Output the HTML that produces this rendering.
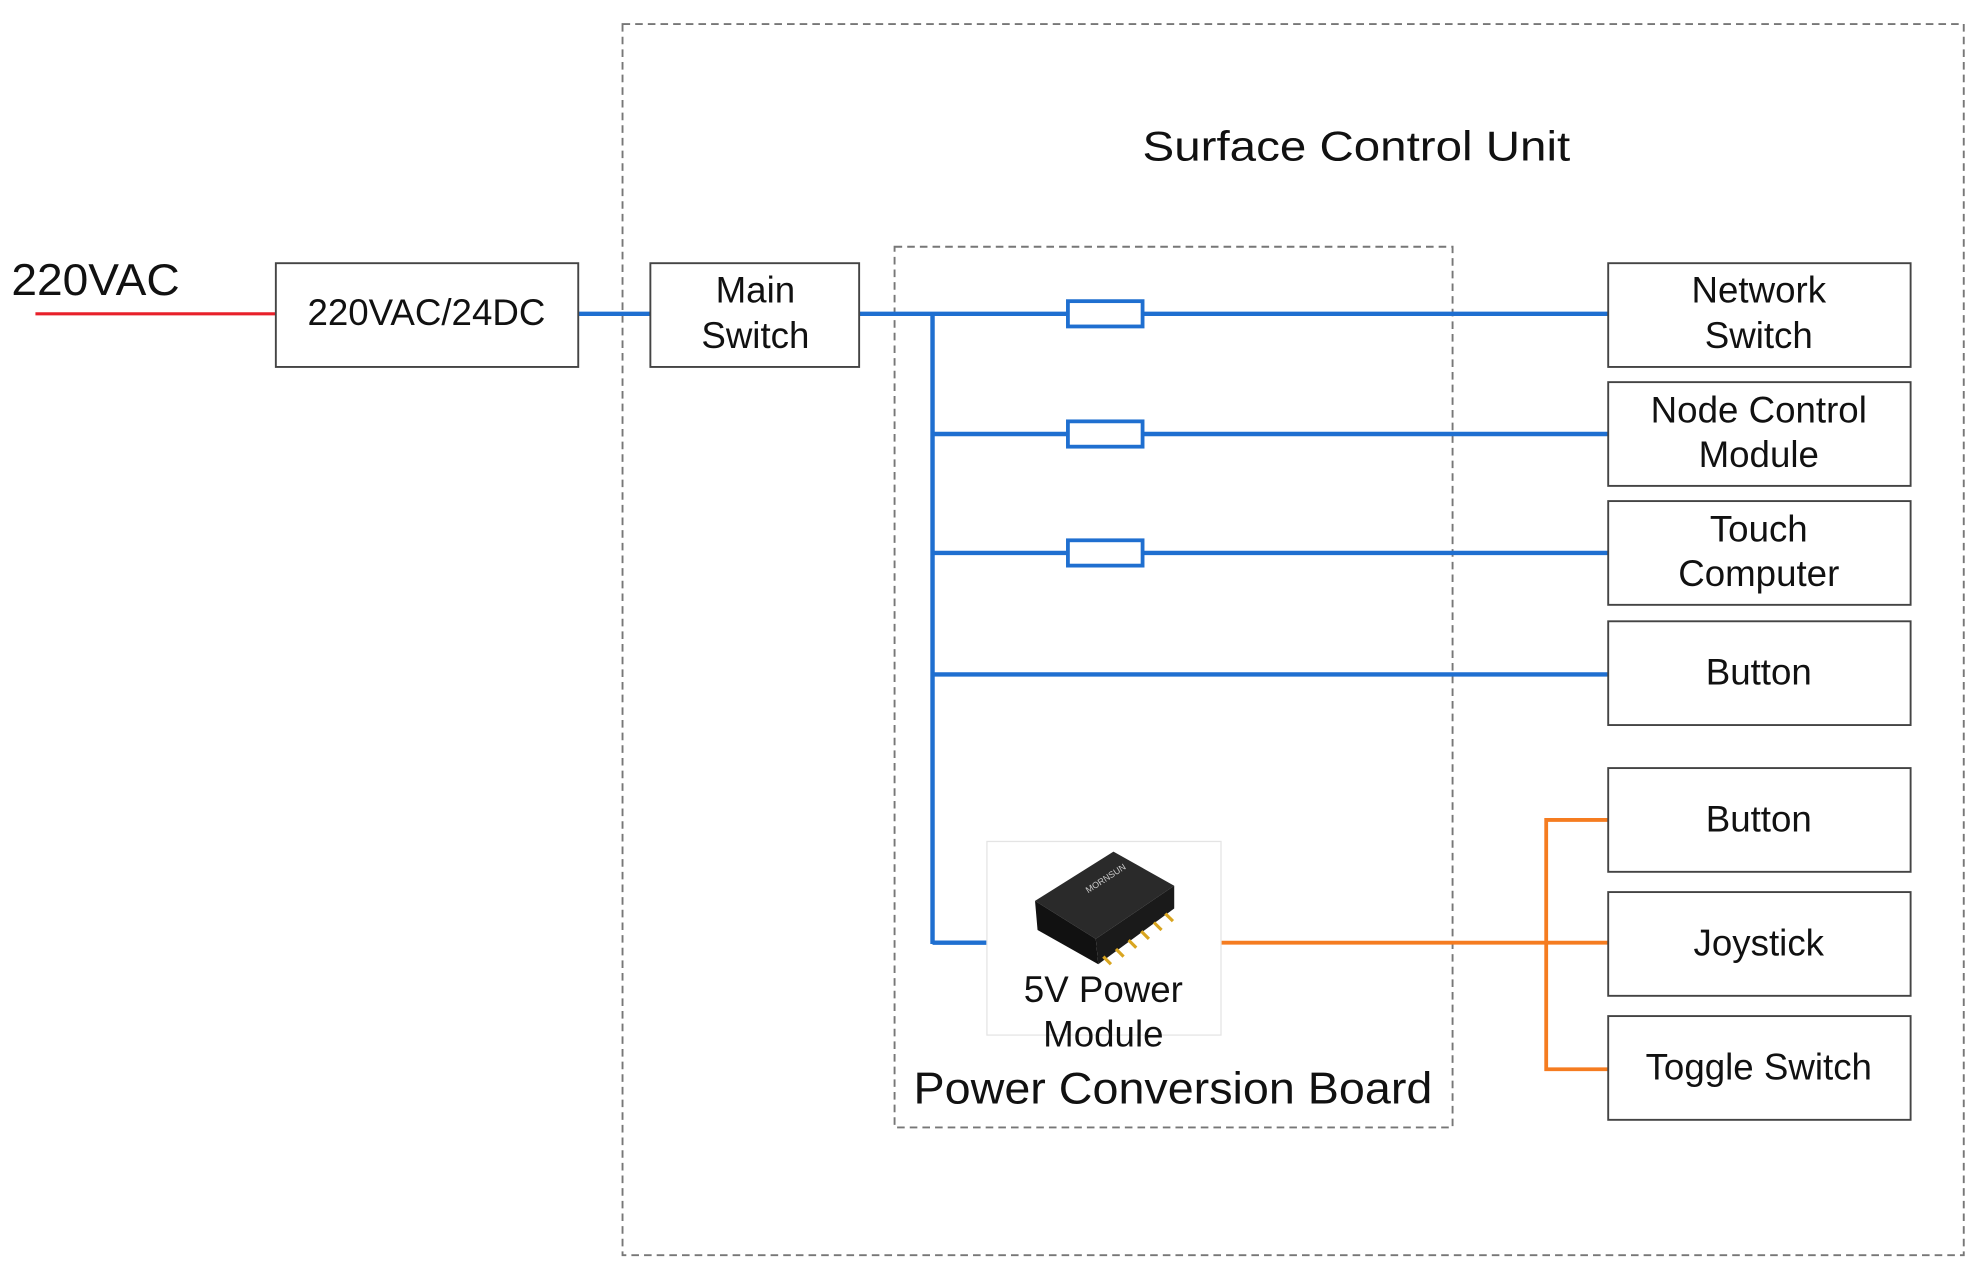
<!DOCTYPE html>
<html><head><meta charset="utf-8"><style>html,body{margin:0;padding:0;background:#fff;}svg{display:block}</style></head>
<body>
<svg width="1984" height="1278" viewBox="0 0 1568 1010" preserveAspectRatio="none" xmlns="http://www.w3.org/2000/svg" font-family="Liberation Sans, sans-serif">
<rect x="0" y="0" width="1568" height="1010" fill="#fff"/>
<g fill="none" stroke="#777" stroke-width="1.5" stroke-dasharray="6,4">
<rect x="492" y="19" width="1060" height="973"/>
<rect x="707" y="195" width="441" height="696"/>
</g>
<text x="903" y="127" font-size="33" textLength="338" lengthAdjust="spacingAndGlyphs" fill="#111">Surface Control Unit</text>
<text x="9" y="233" font-size="35" textLength="133" lengthAdjust="spacingAndGlyphs" fill="#111">220VAC</text>
<line x1="28" y1="248" x2="218" y2="248" stroke="#e8202a" stroke-width="2.5"/>
<g stroke="#1f6fd0" stroke-width="3.5" fill="none">
<line x1="457" y1="248" x2="514" y2="248"/>
<line x1="679" y1="248" x2="1271" y2="248"/>
<line x1="737" y1="248" x2="737" y2="746"/>
<line x1="737" y1="343" x2="1271" y2="343"/>
<line x1="737" y1="437" x2="1271" y2="437"/>
<line x1="737" y1="533" x2="1271" y2="533"/>
<line x1="737" y1="745" x2="782" y2="745"/>
</g>
<g stroke="#1f6fd0" stroke-width="3" fill="#fff">
<rect x="844" y="238" width="59" height="20"/>
<rect x="844" y="333" width="59" height="20"/>
<rect x="844" y="427" width="59" height="20"/>
</g>
<g stroke="#f57c20" stroke-width="3" fill="none">
<line x1="963" y1="745" x2="1271" y2="745"/>
<polyline points="1271,648 1222,648 1222,845 1271,845"/>
</g>
<g stroke="#444" stroke-width="1.5" fill="#fff">
<rect x="218" y="208" width="239" height="82"/>
<rect x="514" y="208" width="165" height="82"/>
<rect x="1271" y="208" width="239" height="82"/>
<rect x="1271" y="302" width="239" height="82"/>
<rect x="1271" y="396" width="239" height="82"/>
<rect x="1271" y="491" width="239" height="82"/>
<rect x="1271" y="607" width="239" height="82"/>
<rect x="1271" y="705" width="239" height="82"/>
<rect x="1271" y="803" width="239" height="82"/>
</g>
<rect x="780" y="665" width="185" height="153" fill="#fff" stroke="#e4e4e4" stroke-width="1"/>
<g>
<polygon points="818,712 880,673 928,700 866,742" fill="#2a2a2a"/>
<polygon points="818,712 866,742 868,762 820,735" fill="#111"/>
<polygon points="866,742 928,700 928,718 868,762" fill="#1a1a1a"/>
<g stroke="#d9a520" stroke-width="2.5">
<line x1="872" y1="756" x2="878" y2="762"/><line x1="882" y1="750" x2="888" y2="756"/><line x1="892" y1="743" x2="898" y2="749"/><line x1="902" y1="736" x2="908" y2="742"/><line x1="912" y1="729" x2="918" y2="735"/><line x1="921" y1="722" x2="927" y2="728"/>
</g>
<text x="860" y="706" font-size="7" fill="#ccc" transform="rotate(-33 860 706)">MORNSUN</text>
</g>
<g font-size="29" text-anchor="middle" fill="#111">
<text x="337" y="257">220VAC/24DC</text>
<text x="597" y="239">Main</text><text x="597" y="275">Switch</text>
<text x="1390" y="239">Network</text><text x="1390" y="275">Switch</text>
<text x="1390" y="334">Node Control</text><text x="1390" y="369">Module</text>
<text x="1390" y="428">Touch</text><text x="1390" y="463">Computer</text>
<text x="1390" y="541">Button</text>
<text x="1390" y="657">Button</text>
<text x="1390" y="755">Joystick</text>
<text x="1390" y="853">Toggle Switch</text>
<text x="872" y="792">5V Power</text><text x="872" y="827">Module</text>
</g>
<text x="722" y="872" font-size="35" textLength="410" lengthAdjust="spacingAndGlyphs" fill="#111">Power Conversion Board</text>
</svg>
</body></html>
